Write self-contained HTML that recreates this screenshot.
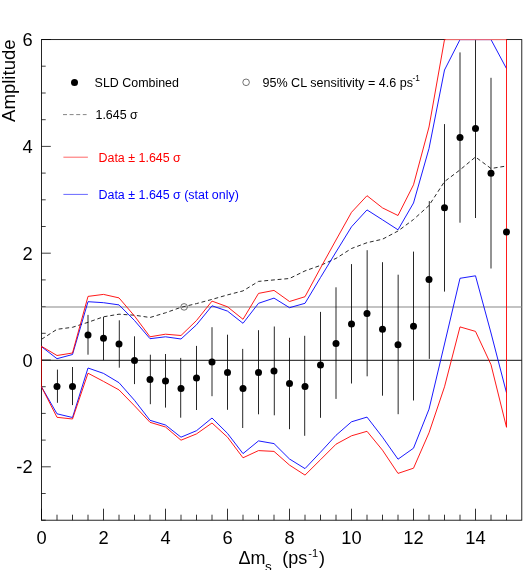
<!DOCTYPE html>
<html><head><meta charset="utf-8"><title>Amplitude</title>
<style>html,body{margin:0;padding:0;background:#fff}body{width:523px;height:570px;overflow:hidden;font-family:"Liberation Sans",sans-serif}</style>
</head><body>
<svg width="523" height="570" viewBox="0 0 523 570" style="will-change:transform;display:block;font-family:'Liberation Sans',sans-serif">
<rect x="0" y="0" width="523" height="570" fill="#fff"/>
<rect x="41.5" y="39.6" width="480.3" height="480.6" fill="none" stroke="#000" stroke-width="0.85"/>
<line x1="41.5" y1="520.2" x2="41.5" y2="508.7" stroke="#000" stroke-width="0.8"/>
<line x1="57.0" y1="520.2" x2="57.0" y2="514.7" stroke="#000" stroke-width="0.8"/>
<line x1="72.5" y1="520.2" x2="72.5" y2="514.7" stroke="#000" stroke-width="0.8"/>
<line x1="88.0" y1="520.2" x2="88.0" y2="514.7" stroke="#000" stroke-width="0.8"/>
<line x1="103.5" y1="520.2" x2="103.5" y2="508.7" stroke="#000" stroke-width="0.8"/>
<line x1="119.0" y1="520.2" x2="119.0" y2="514.7" stroke="#000" stroke-width="0.8"/>
<line x1="134.5" y1="520.2" x2="134.5" y2="514.7" stroke="#000" stroke-width="0.8"/>
<line x1="150.0" y1="520.2" x2="150.0" y2="514.7" stroke="#000" stroke-width="0.8"/>
<line x1="165.5" y1="520.2" x2="165.5" y2="508.7" stroke="#000" stroke-width="0.8"/>
<line x1="181.0" y1="520.2" x2="181.0" y2="514.7" stroke="#000" stroke-width="0.8"/>
<line x1="196.5" y1="520.2" x2="196.5" y2="514.7" stroke="#000" stroke-width="0.8"/>
<line x1="212.0" y1="520.2" x2="212.0" y2="514.7" stroke="#000" stroke-width="0.8"/>
<line x1="227.5" y1="520.2" x2="227.5" y2="508.7" stroke="#000" stroke-width="0.8"/>
<line x1="243.0" y1="520.2" x2="243.0" y2="514.7" stroke="#000" stroke-width="0.8"/>
<line x1="258.5" y1="520.2" x2="258.5" y2="514.7" stroke="#000" stroke-width="0.8"/>
<line x1="274.0" y1="520.2" x2="274.0" y2="514.7" stroke="#000" stroke-width="0.8"/>
<line x1="289.5" y1="520.2" x2="289.5" y2="508.7" stroke="#000" stroke-width="0.8"/>
<line x1="305.0" y1="520.2" x2="305.0" y2="514.7" stroke="#000" stroke-width="0.8"/>
<line x1="320.5" y1="520.2" x2="320.5" y2="514.7" stroke="#000" stroke-width="0.8"/>
<line x1="336.0" y1="520.2" x2="336.0" y2="514.7" stroke="#000" stroke-width="0.8"/>
<line x1="351.5" y1="520.2" x2="351.5" y2="508.7" stroke="#000" stroke-width="0.8"/>
<line x1="367.0" y1="520.2" x2="367.0" y2="514.7" stroke="#000" stroke-width="0.8"/>
<line x1="382.5" y1="520.2" x2="382.5" y2="514.7" stroke="#000" stroke-width="0.8"/>
<line x1="398.0" y1="520.2" x2="398.0" y2="514.7" stroke="#000" stroke-width="0.8"/>
<line x1="413.5" y1="520.2" x2="413.5" y2="508.7" stroke="#000" stroke-width="0.8"/>
<line x1="429.0" y1="520.2" x2="429.0" y2="514.7" stroke="#000" stroke-width="0.8"/>
<line x1="444.5" y1="520.2" x2="444.5" y2="514.7" stroke="#000" stroke-width="0.8"/>
<line x1="460.0" y1="520.2" x2="460.0" y2="514.7" stroke="#000" stroke-width="0.8"/>
<line x1="475.5" y1="520.2" x2="475.5" y2="508.7" stroke="#000" stroke-width="0.8"/>
<line x1="491.0" y1="520.2" x2="491.0" y2="514.7" stroke="#000" stroke-width="0.8"/>
<line x1="506.5" y1="520.2" x2="506.5" y2="514.7" stroke="#000" stroke-width="0.8"/>
<line x1="41.5" y1="520.2" x2="45.7" y2="520.2" stroke="#000" stroke-width="0.75"/>
<line x1="41.5" y1="493.5" x2="45.7" y2="493.5" stroke="#000" stroke-width="0.75"/>
<line x1="41.5" y1="466.8" x2="50.8" y2="466.8" stroke="#000" stroke-width="0.75"/>
<line x1="41.5" y1="440.1" x2="45.7" y2="440.1" stroke="#000" stroke-width="0.75"/>
<line x1="41.5" y1="413.4" x2="45.7" y2="413.4" stroke="#000" stroke-width="0.75"/>
<line x1="41.5" y1="386.7" x2="45.7" y2="386.7" stroke="#000" stroke-width="0.75"/>
<line x1="41.5" y1="360.0" x2="50.8" y2="360.0" stroke="#000" stroke-width="0.75"/>
<line x1="41.5" y1="333.3" x2="45.7" y2="333.3" stroke="#000" stroke-width="0.75"/>
<line x1="41.5" y1="306.6" x2="45.7" y2="306.6" stroke="#000" stroke-width="0.75"/>
<line x1="41.5" y1="279.9" x2="45.7" y2="279.9" stroke="#000" stroke-width="0.75"/>
<line x1="41.5" y1="253.2" x2="50.8" y2="253.2" stroke="#000" stroke-width="0.75"/>
<line x1="41.5" y1="226.5" x2="45.7" y2="226.5" stroke="#000" stroke-width="0.75"/>
<line x1="41.5" y1="199.8" x2="45.7" y2="199.8" stroke="#000" stroke-width="0.75"/>
<line x1="41.5" y1="173.1" x2="45.7" y2="173.1" stroke="#000" stroke-width="0.75"/>
<line x1="41.5" y1="146.4" x2="50.8" y2="146.4" stroke="#000" stroke-width="0.75"/>
<line x1="41.5" y1="119.7" x2="45.7" y2="119.7" stroke="#000" stroke-width="0.75"/>
<line x1="41.5" y1="93.0" x2="45.7" y2="93.0" stroke="#000" stroke-width="0.75"/>
<line x1="41.5" y1="66.2" x2="45.7" y2="66.2" stroke="#000" stroke-width="0.75"/>
<line x1="41.5" y1="39.5" x2="50.8" y2="39.5" stroke="#000" stroke-width="0.75"/>
<line x1="41.5" y1="307.0" x2="521.8" y2="307.0" stroke="#888" stroke-width="1.1"/>
<line x1="41.5" y1="360.3" x2="521.8" y2="360.3" stroke="#111" stroke-width="1"/>
<polyline points="41.5,339.3 57.0,329.3 72.5,327.3 88.0,322.3 103.5,316.8 119.0,314.2 134.5,315.2 150.0,317.5 165.5,312.8 181.0,307.3 196.5,303.6 212.0,299.4 227.5,294.9 243.0,290.9 258.5,281.4 274.0,279.9 289.5,278.5 305.0,270.9 320.5,265.4 336.0,258.4 351.5,248.5 367.0,242.7 382.5,239.2 398.0,231.0 413.5,219.5 429.0,205.5 444.5,181.6 460.0,169.9 475.5,157.0 491.0,168.5 506.5,166.0" fill="none" stroke="#2a2a2a" stroke-width="1" stroke-linejoin="round" stroke-dasharray="3.9 2.8"/>
<circle cx="184.1" cy="306.9" r="3.3" fill="none" stroke="#444" stroke-width="0.75"/>
<line x1="57.45" y1="369.6" x2="57.45" y2="402.8" stroke="#000" stroke-width="0.85"/>
<line x1="72.50" y1="367.0" x2="72.50" y2="405.1" stroke="#000" stroke-width="0.85"/>
<line x1="88.00" y1="314.9" x2="88.00" y2="354.7" stroke="#000" stroke-width="0.85"/>
<line x1="103.50" y1="316.9" x2="103.50" y2="360.2" stroke="#000" stroke-width="0.85"/>
<line x1="119.30" y1="320.3" x2="119.30" y2="367.7" stroke="#000" stroke-width="0.85"/>
<line x1="134.50" y1="336.3" x2="134.50" y2="384.1" stroke="#000" stroke-width="0.85"/>
<line x1="150.35" y1="354.7" x2="150.35" y2="404.2" stroke="#000" stroke-width="0.85"/>
<line x1="165.50" y1="354.0" x2="165.50" y2="407.6" stroke="#000" stroke-width="0.85"/>
<line x1="180.70" y1="357.9" x2="180.70" y2="417.7" stroke="#000" stroke-width="0.85"/>
<line x1="196.50" y1="345.9" x2="196.50" y2="410.0" stroke="#000" stroke-width="0.85"/>
<line x1="212.00" y1="327.2" x2="212.00" y2="396.2" stroke="#000" stroke-width="0.85"/>
<line x1="227.50" y1="334.7" x2="227.50" y2="409.8" stroke="#000" stroke-width="0.85"/>
<line x1="242.70" y1="348.9" x2="242.70" y2="428.0" stroke="#000" stroke-width="0.85"/>
<line x1="258.50" y1="330.2" x2="258.50" y2="414.3" stroke="#000" stroke-width="0.85"/>
<line x1="274.30" y1="326.5" x2="274.30" y2="415.3" stroke="#000" stroke-width="0.85"/>
<line x1="289.50" y1="337.8" x2="289.50" y2="429.2" stroke="#000" stroke-width="0.85"/>
<line x1="304.70" y1="335.8" x2="304.70" y2="435.8" stroke="#000" stroke-width="0.85"/>
<line x1="320.50" y1="311.9" x2="320.50" y2="417.8" stroke="#000" stroke-width="0.85"/>
<line x1="336.00" y1="287.3" x2="336.00" y2="398.9" stroke="#000" stroke-width="0.85"/>
<line x1="351.50" y1="264.1" x2="351.50" y2="383.5" stroke="#000" stroke-width="0.85"/>
<line x1="367.15" y1="250.2" x2="367.15" y2="376.3" stroke="#000" stroke-width="0.85"/>
<line x1="382.50" y1="262.2" x2="382.50" y2="395.7" stroke="#000" stroke-width="0.85"/>
<line x1="398.15" y1="274.7" x2="398.15" y2="414.2" stroke="#000" stroke-width="0.85"/>
<line x1="413.50" y1="251.6" x2="413.50" y2="400.5" stroke="#000" stroke-width="0.85"/>
<line x1="429.30" y1="201.1" x2="429.30" y2="358.9" stroke="#000" stroke-width="0.85"/>
<line x1="444.50" y1="124.1" x2="444.50" y2="291.6" stroke="#000" stroke-width="0.85"/>
<line x1="460.00" y1="52.4" x2="460.00" y2="222.7" stroke="#000" stroke-width="0.85"/>
<line x1="475.50" y1="39.6" x2="475.50" y2="218.0" stroke="#000" stroke-width="0.85"/>
<line x1="491.00" y1="77.8" x2="491.00" y2="268.5" stroke="#000" stroke-width="0.85"/>
<polyline points="41.5,346.7 57.0,358.7 72.5,354.5 88.0,301.7 103.5,302.7 119.0,304.9 134.5,320.5 150.0,338.7 165.5,336.8 181.0,339.0 196.5,324.8 212.0,305.8 227.5,311.1 243.0,323.3 258.5,303.3 274.0,298.1 289.5,307.7 305.0,303.3 320.5,277.5 336.0,252.0 351.5,226.8 367.0,209.9 382.5,219.8 398.0,229.8 413.5,203.0 429.0,148.5 444.5,70.0 460.0,39.6 475.5,39.6 491.0,39.6 506.5,68.6" fill="none" stroke="#0000ff" stroke-width="0.9" stroke-linejoin="miter"/>
<polyline points="41.5,386.9 57.0,413.8 72.5,417.5 88.0,368.0 103.5,373.4 119.0,382.7 134.5,400.3 150.0,420.3 165.5,425.0 181.0,437.2 196.5,430.7 212.0,418.0 227.5,433.4 243.0,453.6 258.5,440.9 274.0,443.6 289.5,459.0 305.0,468.6 320.5,452.2 336.0,435.3 351.5,421.8 367.0,417.1 382.5,437.2 398.0,459.2 413.5,448.2 429.0,409.2 444.5,344.0 460.0,278.3 475.5,275.8 491.0,333.0 506.5,392.8" fill="none" stroke="#0000ff" stroke-width="0.9"/>
<polyline points="41.5,386.9 41.5,346.3 57.0,355.5 72.5,353.0 88.0,296.4 103.5,294.4 119.0,297.9 134.5,316.0 150.0,336.8 165.5,334.2 181.0,335.5 196.5,320.5 212.0,301.1 227.5,306.8 243.0,319.3 258.5,293.4 274.0,290.4 289.5,301.5 305.0,296.7 320.5,268.0 336.0,240.0 351.5,212.3 367.0,195.7 382.5,207.9 398.0,215.5 413.5,184.8 429.0,127.0 444.5,39.6 460.0,39.6 475.5,39.6 491.0,39.6 506.5,39.6 506.5,427.3 491.0,364.7 475.5,331.4 460.0,326.9 444.5,386.8 429.0,432.8 413.5,468.2 398.0,473.4 382.5,450.2 367.0,431.3 351.5,435.8 336.0,444.2 320.5,459.7 305.0,475.1 289.5,465.1 274.0,451.4 258.5,450.6 243.0,457.8 227.5,437.2 212.0,423.0 196.5,433.9 181.0,440.2 165.5,427.0 150.0,422.3 134.5,405.8 119.0,389.9 103.5,381.4 88.0,373.2 72.5,419.0 57.0,417.3 41.5,386.9" fill="none" stroke="#ff0000" stroke-width="0.9"/>
<line x1="445.5" y1="39.65" x2="506.0" y2="39.65" stroke="#fff" stroke-opacity="0.4" stroke-width="1.2"/>
<line x1="41.5" y1="347.5" x2="41.5" y2="386" stroke="#000" stroke-opacity="0.3" stroke-width="1"/>
<circle cx="57.0" cy="386.6" r="3.5" fill="#000"/>
<circle cx="72.5" cy="386.4" r="3.5" fill="#000"/>
<circle cx="88.0" cy="335.0" r="3.5" fill="#000"/>
<circle cx="103.5" cy="338.3" r="3.5" fill="#000"/>
<circle cx="119.0" cy="344.0" r="3.5" fill="#000"/>
<circle cx="134.5" cy="360.4" r="3.5" fill="#000"/>
<circle cx="150.0" cy="379.6" r="3.5" fill="#000"/>
<circle cx="165.5" cy="380.9" r="3.5" fill="#000"/>
<circle cx="181.0" cy="388.4" r="3.5" fill="#000"/>
<circle cx="196.5" cy="377.9" r="3.5" fill="#000"/>
<circle cx="212.0" cy="362.0" r="3.5" fill="#000"/>
<circle cx="227.5" cy="372.4" r="3.5" fill="#000"/>
<circle cx="243.0" cy="388.6" r="3.5" fill="#000"/>
<circle cx="258.5" cy="372.4" r="3.5" fill="#000"/>
<circle cx="274.0" cy="370.9" r="3.5" fill="#000"/>
<circle cx="289.5" cy="383.5" r="3.5" fill="#000"/>
<circle cx="305.0" cy="386.4" r="3.5" fill="#000"/>
<circle cx="320.5" cy="364.9" r="3.5" fill="#000"/>
<circle cx="336.0" cy="343.5" r="3.5" fill="#000"/>
<circle cx="351.5" cy="324.1" r="3.5" fill="#000"/>
<circle cx="367.0" cy="313.4" r="3.5" fill="#000"/>
<circle cx="382.5" cy="329.3" r="3.5" fill="#000"/>
<circle cx="398.0" cy="344.7" r="3.5" fill="#000"/>
<circle cx="413.5" cy="326.3" r="3.5" fill="#000"/>
<circle cx="429.0" cy="279.4" r="3.5" fill="#000"/>
<circle cx="444.5" cy="207.8" r="3.5" fill="#000"/>
<circle cx="460.0" cy="137.6" r="3.5" fill="#000"/>
<circle cx="475.5" cy="128.6" r="3.5" fill="#000"/>
<circle cx="491.0" cy="173.2" r="3.5" fill="#000"/>
<circle cx="506.5" cy="231.9" r="3.5" fill="#000"/>
<text x="32.6" y="46.1" font-size="18.3" text-anchor="end" fill="#000">6</text>
<text x="32.6" y="153.0" font-size="18.3" text-anchor="end" fill="#000">4</text>
<text x="32.6" y="259.8" font-size="18.3" text-anchor="end" fill="#000">2</text>
<text x="32.6" y="366.6" font-size="18.3" text-anchor="end" fill="#000">0</text>
<text x="32.6" y="473.4" font-size="18.3" text-anchor="end" fill="#000">-2</text>
<text x="41.5" y="543.8" font-size="18.3" text-anchor="middle" fill="#000">0</text>
<text x="103.5" y="543.8" font-size="18.3" text-anchor="middle" fill="#000">2</text>
<text x="165.5" y="543.8" font-size="18.3" text-anchor="middle" fill="#000">4</text>
<text x="227.5" y="543.8" font-size="18.3" text-anchor="middle" fill="#000">6</text>
<text x="289.5" y="543.8" font-size="18.3" text-anchor="middle" fill="#000">8</text>
<text x="351.5" y="543.8" font-size="18.3" text-anchor="middle" fill="#000">10</text>
<text x="413.5" y="543.8" font-size="18.3" text-anchor="middle" fill="#000">12</text>
<text x="475.5" y="543.8" font-size="18.3" text-anchor="middle" fill="#000">14</text>
<text transform="translate(15.1,122) rotate(-90)" font-size="18.6" fill="#000">Amplitude</text>
<text x="238.6" y="564" font-size="18" fill="#000">Δm</text>
<text x="264.9" y="570.7" font-size="13.5" fill="#000">s</text>
<text x="282.2" y="564" font-size="18" fill="#000">(ps</text>
<text x="308.3" y="556.8" font-size="11" fill="#000">-1</text>
<text x="319" y="564" font-size="18" fill="#000">)</text>
<circle cx="74.5" cy="82.4" r="3.5" fill="#000"/>
<text x="94.6" y="86.8" font-size="12.45" fill="#000">SLD Combined</text>
<circle cx="246.1" cy="82.3" r="3.3" fill="none" stroke="#444" stroke-width="0.75"/>
<text x="262.5" y="86.8" font-size="12.55" fill="#000">95% CL sensitivity = 4.6 ps</text>
<text x="412.5" y="81" font-size="8.3" fill="#000">-1</text>
<line x1="63" y1="114.6" x2="86.6" y2="114.6" stroke="#444" stroke-width="0.65" stroke-dasharray="4 2.6"/>
<text x="95.5" y="119" font-size="12.45" fill="#000">1.645 σ</text>
<line x1="63.4" y1="157.2" x2="87.9" y2="157.2" stroke="#ff0000" stroke-width="0.6"/>
<text x="98.5" y="161.5" font-size="12.45" fill="#ff0000">Data ± 1.645 σ</text>
<line x1="63.4" y1="194.4" x2="87.9" y2="194.4" stroke="#0000ff" stroke-width="0.6"/>
<text x="98.5" y="199.1" font-size="12.45" fill="#0000ff">Data ± 1.645 σ (stat only)</text>
</svg>
</body></html>
